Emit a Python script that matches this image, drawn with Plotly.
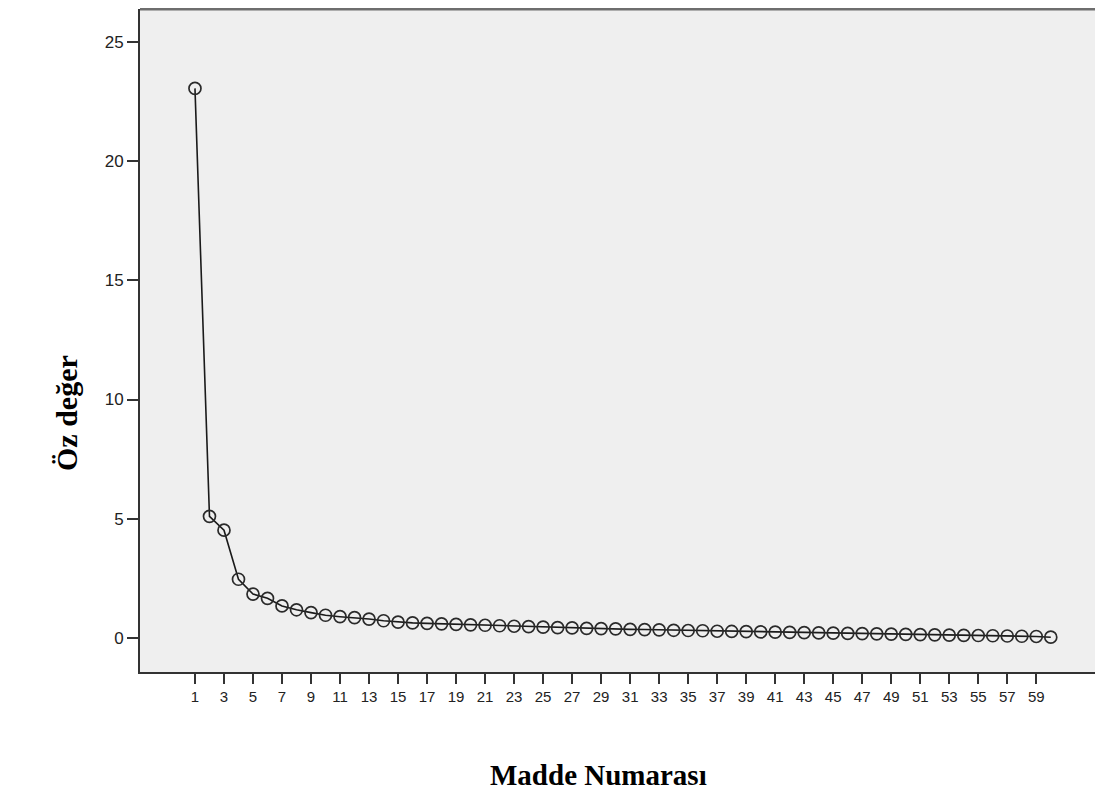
import plotly.graph_objects as go

madde = list(range(1, 61))
oz_deger = [23.05, 5.10, 4.52, 2.46, 1.84, 1.66, 1.34, 1.18, 1.06, 0.95,
            0.89, 0.85, 0.79, 0.72, 0.66, 0.63, 0.61, 0.59, 0.57, 0.55,
            0.53, 0.51, 0.49, 0.47, 0.45, 0.43, 0.42, 0.40, 0.39, 0.38,
            0.36, 0.35, 0.34, 0.32, 0.31, 0.30, 0.28, 0.27, 0.26, 0.25,
            0.24, 0.23, 0.22, 0.21, 0.20, 0.19, 0.18, 0.17, 0.16, 0.15,
            0.14, 0.13, 0.12, 0.11, 0.10, 0.09, 0.08, 0.07, 0.06, 0.03]
x_ticks = list(range(1, 60, 2))
y_ticks = [0, 5, 10, 15, 20, 25]

# the page body has an 8px margin, so the figure is drawn 8px in from the top-left
W, H = 1095, 784
L, R, T, B = 132, 0, 1, 120
pw, ph = W - L - R, H - T - B

def px_x(px):
    return (px - 8 - L) / pw

def px_y(py):
    return (H - B - (py - 8)) / ph

fig = go.Figure()
fig.add_trace(go.Scatter(
    x=madde, y=oz_deger, mode="lines+markers",
    line=dict(color="#1a1a1a", width=1.6),
    marker=dict(symbol="circle-open", size=12, color="#2a2a2a", line=dict(width=1.7)),
    showlegend=False, hoverinfo="x+y",
))

fig.update_layout(
    width=W, height=H,
    margin=dict(l=L, r=R, t=T, b=B),
    paper_bgcolor="white", plot_bgcolor="#efefef",
    font=dict(family="Liberation Sans, Arial, sans-serif", size=15, color="#222"),
    xaxis=dict(range=[-2.79, 63.6], tickvals=x_ticks, ticktext=[str(v) for v in x_ticks],
               showgrid=False, zeroline=False, showline=True, linecolor="#333", linewidth=2,
               ticks="outside", ticklen=10, tickwidth=1.6, tickcolor="#333",
               tickfont=dict(size=15, color="#222")),
    yaxis=dict(range=[-1.43, 26.38], tickvals=y_ticks, ticktext=[str(v) for v in y_ticks],
               showgrid=False, zeroline=False, showline=True, linecolor="#333", linewidth=2,
               ticks="outside", ticklen=11, tickwidth=1.6, tickcolor="#333",
               tickfont=dict(size=17, color="#222")),
    shapes=[dict(type="line", xref="paper", yref="paper", x0=0, x1=1, y0=1, y1=1,
                 line=dict(color="#6e6e6e", width=3))],
    annotations=[
        dict(text="<b>Madde Numarası</b>", xref="paper", yref="paper",
             x=px_x(598), y=px_y(775), xanchor="center", yanchor="middle", showarrow=False,
             font=dict(family="Liberation Serif, Times New Roman, serif", size=29, color="#000")),
        dict(text="<b>Öz değer</b>", xref="paper", yref="paper", textangle=-90,
             x=px_x(66), y=px_y(413), xanchor="center", yanchor="middle", showarrow=False,
             font=dict(family="Liberation Serif, Times New Roman, serif", size=30, color="#000")),
    ],
)

fig.write_html("out.html")
